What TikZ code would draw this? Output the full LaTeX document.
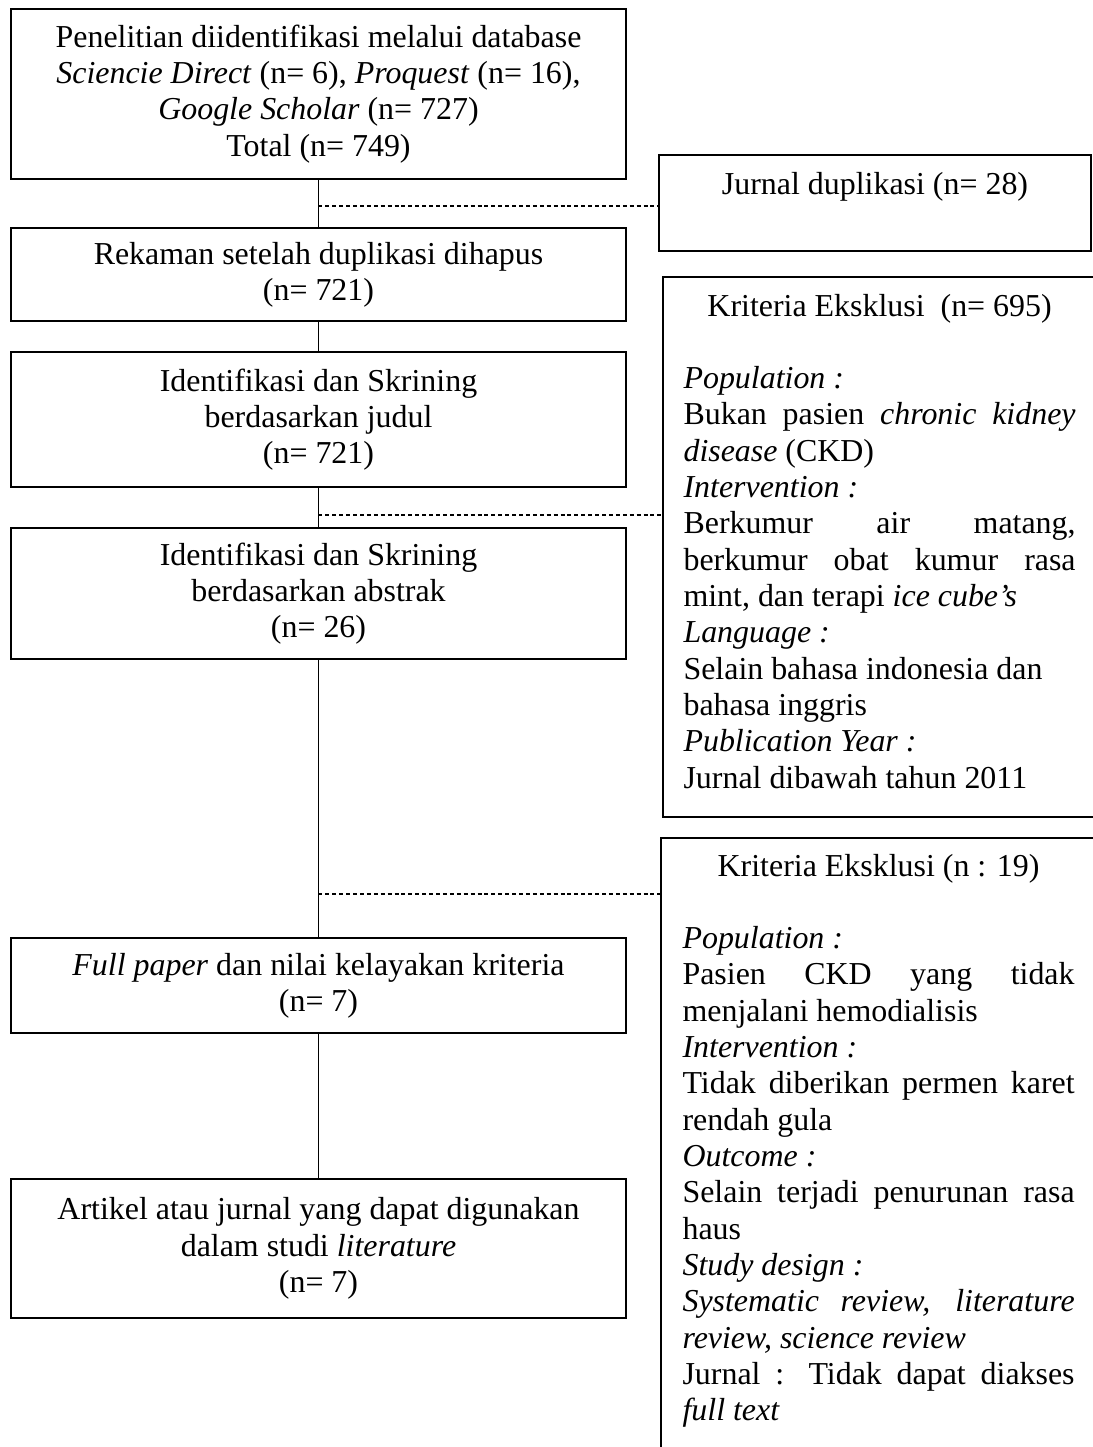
\documentclass[tikz,border=0pt]{standalone}
\usepackage{fontspec}
\setmainfont{Liberation Serif}
\newlength{\colw}
\setlength{\colw}{147.4pt}
\begin{document}
\begin{tikzpicture}[x=0.37594pt,y=-0.37594pt,
  every node/.style={font=\fontsize{12}{13.65}\selectfont},
  lbox/.style={draw, line width=0.6pt, minimum width=231.2pt, align=center, inner sep=0pt},
  rbox/.style={draw, line width=0.6pt, inner sep=0pt},
  trunk/.style={line width=0.45pt},
  dashline/.style={line width=0.45pt, dash pattern=on 1.5pt off 1.1pt},
  ptext/.style={anchor=base west, inner sep=0pt}]
\useasboundingbox (0,0) rectangle (1093,1447);
\clip (0,0) rectangle (1093,1447);
\fill[white] (0,0) rectangle (1093,1447);

% left column
\node[lbox, minimum height=63.9pt] (b1) at (318.5,94) {Penelitian diidentifikasi melalui database\\ \textit{Sciencie Direct} (n= 6), \textit{Proquest} (n= 16),\\ \textit{Google Scholar} (n= 727)\\ Total (n= 749)};
\node[lbox, minimum height=35pt] (b2) at (318.5,274.5) {Rekaman setelah duplikasi dihapus\\ (n= 721)};
\node[lbox, minimum height=50.75pt] (b3) at (318.5,419.5) {Identifikasi dan Skrining\\ berdasarkan judul\\ (n= 721)};
\node[lbox, minimum height=49.25pt] (b4) at (318.5,593.5) {Identifikasi dan Skrining\\ berdasarkan abstrak\\ (n= 26)};
\node[lbox, minimum height=35.7pt] (b5) at (318.5,985.5) {\textit{Full paper} dan nilai kelayakan kriteria\\ (n= 7)};
\node[lbox, minimum height=52.25pt] (b6) at (318.5,1248.5) {Artikel atau jurnal yang dapat digunakan\\ dalam studi \textit{literature}\\ (n= 7)};

% right column boxes
\node[rbox, minimum width=162.4pt, minimum height=36.1pt] (jur) at (875,203) {};
\node[anchor=base, inner sep=0pt] (jurt) at (875,195) {Jurnal duplikasi (n= 28)};

\node[rbox, minimum width=164.3pt, minimum height=203pt] (k1) at (881.5,547) {};
\node[ptext] (k1t) at (683,316) {\parbox[t]{\colw}{%
\makebox[\colw]{Kriteria Eksklusi\ \ (n= 695)}\\
\mbox{}\\
\textit{Population :}\\
\makebox[\colw][s]{Bukan pasien \textit{chronic kidney}}\\
\textit{disease} (CKD)\\
\textit{Intervention :}\\
\makebox[\colw][s]{Berkumur air matang,}\\
\makebox[\colw][s]{berkumur obat kumur rasa}\\
mint, dan terapi \textit{ice cube’s}\\
\textit{Language :}\\
Selain bahasa indonesia dan\\
bahasa inggris\\
\textit{Publication Year :}\\
Jurnal dibawah tahun 2011}};

\node[rbox, minimum width=165pt, minimum height=233.8pt] (k2) at (880.5,1149) {};
\node[ptext] (k2t) at (682,876) {\parbox[t]{\colw}{%
\makebox[\colw]{Kriteria Eksklusi (n : 19)}\\
\mbox{}\\
\textit{Population :}\\
\makebox[\colw][s]{Pasien CKD yang tidak}\\
menjalani hemodialisis\\
\textit{Intervention :}\\
\makebox[\colw][s]{Tidak diberikan permen karet}\\
rendah gula\\
\textit{Outcome :}\\
\makebox[\colw][s]{Selain terjadi penurunan rasa}\\
haus\\
\textit{Study design :}\\
\makebox[\colw][s]{\textit{Systematic review, literature}}\\
\textit{review, science review}\\
\makebox[\colw][s]{Jurnal : Tidak dapat diakses}\\
\textit{full text}}};

% trunk
\draw[trunk] (b1.south) -- (b2.north);
\draw[trunk] (b2.south) -- (b3.north);
\draw[trunk] (b3.south) -- (b4.north);
\draw[trunk] (b4.south) -- (b5.north);
\draw[trunk] (b5.south) -- (b6.north);

% dashed side connectors
\coordinate (d1) at (318.5,206);
\coordinate (d2) at (318.5,515);
\coordinate (d3) at (318.5,894);
\draw[dashline] (d1) -- (d1 -| jur.west);
\draw[dashline] (d2) -- (d2 -| k1.west);
\draw[dashline] (d3) -- (d3 -| k2.west);
\end{tikzpicture}
\end{document}
